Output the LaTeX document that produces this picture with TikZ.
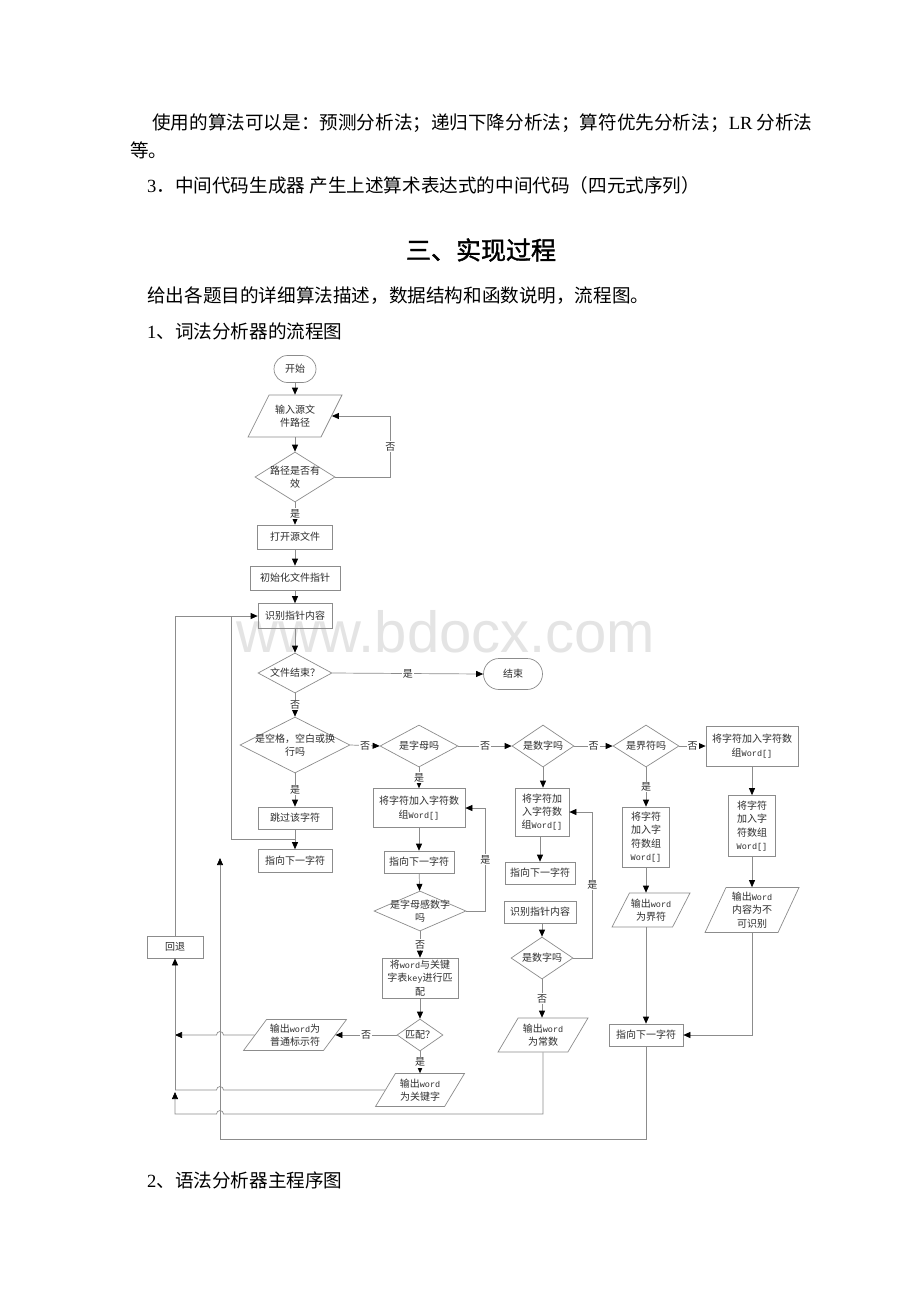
\documentclass[tikz,border=0pt]{standalone}
\usepackage{fontspec}
\setmainfont{Liberation Serif}
\newfontfamily\cjk{Noto Sans CJK SC}
\newfontfamily\cjkb[FakeBold=1.5]{Noto Sans CJK SC}
\newfontfamily\monof{Liberation Mono}
\newfontfamily\wmfont{Liberation Sans}
\usetikzlibrary{shapes.geometric,arrows.meta,calc}
\definecolor{ln}{RGB}{140,140,140}
\definecolor{tx}{RGB}{45,45,45}
\definecolor{wmc}{RGB}{228,228,228}
\newcommand{\mw}[1]{{\monof\fontsize{8.5}{13.3}\selectfont #1}}
\tikzset{
 ft/.style={font=\cjk\fontsize{10}{13.3}\selectfont, align=center, inner sep=0pt, text=tx},
 sz/.style 2 args={minimum width=#1pt, minimum height=#2pt},
 proc/.style={ft, draw=ln, line width=0.7pt, rectangle},
 term/.style={proc, rounded corners=#1pt},
 dec/.style={draw=ln, line width=0.7pt, diamond, inner sep=1pt},
 io/.style={draw=ln, line width=0.7pt, trapezium, trapezium left angle=68, trapezium right angle=112, trapezium stretches=true, inner sep=2pt},
 line/.style={draw=ln, line width=0.7pt},
 arr/.style={line, -{Triangle[length=7pt,width=6pt,color=black]}},
 lab/.style={ft, fill=white, inner sep=1pt},
 body/.style={font=\cjk\fontsize{18.6}{22}\selectfont, text=black, anchor=west, inner sep=0pt},
}
\begin{document}
\begin{tikzpicture}[x=1pt,y=-1pt]
\useasboundingbox (0,0) rectangle (920,1302);
\fill[white] (0,0) rectangle (920,1302);
% watermark
\node[anchor=base west, font=\wmfont\fontsize{58}{60}\selectfont, text=wmc, inner sep=0pt] (wmk) at (236,652) {www.bdocx.com};
% text
\node[body] (t1) at (152,123) {使用的算法可以是：预测分析法；递归下降分析法；算符优先分析法；{\rmfamily LR} 分析法};
\node[body] (t2) at (130,150) {等。};
\node[body] (t3) at (147,185) {{\rmfamily 3}．中间代码生成器 产生上述算术表达式的中间代码（四元式序列）};
\node[font=\cjkb\fontsize{25}{30}\selectfont, text=black, inner sep=0pt] (title) at (481,250) {三、实现过程};
\node[body] (t4) at (147,296) {给出各题目的详细算法描述，数据结构和函数说明，流程图。};
\node[body] (t5) at (147,331) {{\rmfamily 1}、词法分析器的流程图};
\node[body] (t6) at (147,1180) {{\rmfamily 2}、语法分析器主程序图};
% nodes
\node[term=13.5, sz={42}{27}] (start) at (295,369) {开始};
\node[io, sz={94}{42}, label={[ft]center:{输入源文\\件路径}}] (input) at (295,416) {};
\node[dec, sz={80}{50}, label={[ft]center:{路径是否有\\效}}] (d1) at (295,477) {};
\node[proc, sz={75}{24}] (open) at (295,537) {打开源文件};
\node[proc, sz={90}{24}] (init) at (295,578) {初始化文件指针};
\node[proc, sz={74}{25}] (read) at (295,616) {识别指针内容};
\node[dec, sz={74}{40}, label={[ft]center:{文件结束？}}] (d2) at (295,673) {};
\node[term=15.5, sz={59}{31}] (end) at (513,674) {结束};
\node[dec, sz={110}{56}, label={[ft]center:{是空格，空白或换\\行吗}}] (d3) at (295,745) {};
\node[proc, sz={74}{22}] (skip) at (295,818) {跳过该字符};
\node[proc, sz={74}{23}] (next1) at (295,861) {指向下一字符};
\node[dec, sz={78}{42}, label={[ft]center:{是字母吗}}] (d4) at (419,746) {};
\node[dec, sz={62}{42}, label={[ft]center:{是数字吗}}] (d5) at (543,746) {};
\node[dec, sz={66}{42}, label={[ft]center:{是界符吗}}] (d6) at (646,746) {};
\node[proc, sz={92}{40}] (unk1) at (752,746) {将字符加入字符数\\组\mw{Word[]}};
\node[proc, sz={47}{61}] (unk2) at (752,826) {将字符\\加入字\\符数组\\\mw{Word[]}};
\node[io, sz={94}{45}, label={[ft]center:{输出\mw{Word}\\内容为不\\可识别}}] (outunk) at (752,910) {};
\node[proc, sz={47}{60}] (delim1) at (646,837) {将字符\\加入字\\符数组\\\mw{Word[]}};
\node[io, sz={78}{34}, label={[ft]center:{输出\mw{word}\\为界符}}] (outdelim) at (651,910) {};
\node[proc, sz={74}{22}] (next4) at (646,1035) {指向下一字符};
\node[proc, sz={92}{39}] (id1) at (419,808) {将字符加入字符数\\组\mw{Word[]}};
\node[proc, sz={70}{22}] (next2) at (419,862) {指向下一字符};
\node[dec, sz={92}{40}, label={[ft]center:{是字母感数字\\吗}}] (d7) at (420,911) {};
\node[proc, sz={76}{40}] (match) at (420,978) {将\mw{word}与关键\\字表\mw{key}进行匹\\配};
\node[dec, sz={46}{32}, label={[ft]center:{匹配？}}] (d8) at (420,1035) {};
\node[io, sz={103}{31}, label={[ft]center:{输出\mw{word}为\\普通标示符}}] (outid) at (295,1035) {};
\node[io, sz={89}{33}, label={[ft]center:{输出\mw{word}\\为关键字}}] (outkw) at (420,1090) {};
\node[proc, sz={54}{48}] (num1) at (542,812) {将字符加\\入字符数\\组\mw{Word[]}};
\node[proc, sz={70}{22}] (next3) at (540,873) {指向下一字符};
\node[proc, sz={72}{22}] (read2) at (540,912) {识别指针内容};
\node[dec, sz={62}{42}, label={[ft]center:{是数字吗}}] (d9) at (542,958) {};
\node[io, sz={90}{34}, label={[ft]center:{输出\mw{word}\\为常数}}] (outnum) at (543,1035) {};
\node[proc, sz={56}{22}] (back) at (175,947) {回退};
% connectors
\draw[arr] (start.south) -- (start.south |- input.north);
\draw[arr] (d1.north |- input.south) -- (d1.north);
\draw[arr] (d1.east) -- ++(55,0) |- (input.east) node[lab, pos=0.25] {否};
\draw[arr] (d1.south) -- (open.north) node[lab, midway] {是};
\draw[arr] (open) -- (init);
\draw[arr] (init) -- (read);
\draw[arr] (read) -- (d2);
\draw[arr] (d2.east) -- (end.west) node[lab, midway] {是};
\draw[arr] (d2.south) -- (d3.north) node[lab, midway] {否};
\draw[arr] (d3.east) -- (d4.west) node[lab, midway] {否};
\draw[arr] (d4.east) -- (d5.west) node[lab, midway] {否};
\draw[arr] (d5.east) -- (d6.west) node[lab, midway] {否};
\draw[arr] (d6.east) -- (unk1.west) node[lab, midway] {否};
\draw[arr] (d3.south) -- (skip.north) node[lab, midway] {是};
\coordinate (j1) at (295,839);
\draw[line] (skip.south) -- (j1) -| ($(read.west)+(-26,0)$);
\draw[arr] (j1) -- (next1.north);
\draw[arr] (back.north) |- (read.west);
% letter branch
\draw[arr] (d4.south) -- (id1.north) node[lab, midway] {是};
\draw[arr] (id1) -- (next2);
\draw[arr] (next2) -- (d7);
\draw[arr] (d7.east) -- ++(19,0) |- (id1.east) node[lab, pos=0.25] {是};
\draw[arr] (d7.south) -- (match.north) node[lab, midway] {否};
\draw[arr] (match) -- (d8);
\draw[arr] (d8.west) -- (outid.east) node[lab, midway] {否};
\draw[arr] (d8.south) -- (d8.south |- outkw.north) node[lab, midway] {是};
\draw[arr] (outid.west) -- (223.5,1035) arc(0:-180:3.5) -- (back.south |- outid.west);
\draw[line] (outkw.west) -- (223.5,1090) arc(0:-180:3.5) -- (175,1090);
\draw[arr] (outnum.center |- outnum.south) -- (543,1114) -- (223.5,1114) arc(0:-180:3.5) -- (175,1114) -- (175,1092);
\draw[arr] (175,1090) -- (back.south);
% digit branch
\draw[arr] (d5.south) -- (d5.south |- num1.north);
\draw[arr] (num1.south -| next3.north) -- (next3.north);
\draw[arr] (read2.south -| d9.north) -- (d9.north);
\draw[arr] (d9.east) -- ++(19,0) |- (num1.east) node[lab, pos=0.25] {是};
\draw[arr] (d9.south) -- (d9.south |- outnum.north) node[lab, midway] {否};
% delimiter branch
\draw[arr] (d6.south) -- (delim1.north) node[lab, midway] {是};
\draw[arr] (delim1.south) -- (delim1.south |- outdelim.north);
\draw[arr] (next4.north |- outdelim.south) -- (next4.north);
% unknown branch
\draw[arr] (unk1) -- (unk2);
\draw[arr] (unk2.south) -- (unk2.south |- outunk.north);
\draw[arr] (outunk.center |- outunk.south) |- (next4.east);
\coordinate (ret) at (220,858);
\draw[arr] (next4.south) |- (220,1139) -- (ret);
\end{tikzpicture}
\end{document}
